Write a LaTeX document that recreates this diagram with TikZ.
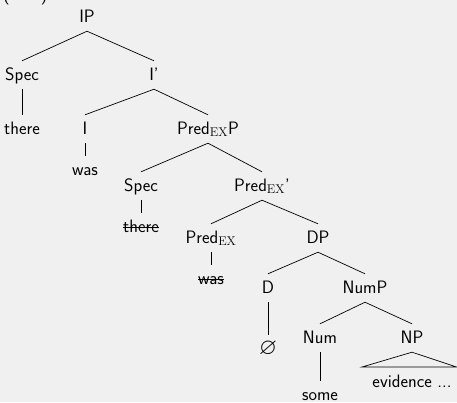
\documentclass[tikz,border=0pt]{standalone}
\usepackage{amssymb}
\usepackage{fontspec}
\definecolor{bgc}{RGB}{240,240,240}
\newcommand\mystrike[1]{\setbox0\hbox{#1}\rlap{\rule[0.22em]{\wd0}{0.7pt}}\box0}
\begin{document}
\begin{tikzpicture}[x=1pt,y=-1pt,
  font=\sffamily\fontsize{18}{21}\selectfont,
  lab/.style={anchor=base, inner xsep=1pt, inner ysep=7pt, text height=12pt, text depth=2pt},
  branch/.style={line width=0.7pt}]
\fill[bgc] (0,0) rectangle (457,402);
\useasboundingbox (0,0) rectangle (457,402);
\node[anchor=base west, inner sep=0pt] (ex) at (3,0.5) {(\hspace{31pt})};
\node[lab] (IP) at (87,22) {IP};
\node[lab] (spec1) at (22,80) {Spec};
\node[lab] (Ibar) at (154,80) {I'};
\node[lab] (there1) at (22,134) {there};
\node[lab] (I) at (85,134) {I};
\node[lab] (PredP) at (208,134) {Pred$_{\mathrm{EX}}$P};
\node[lab] (was1) at (85,175) {was};
\node[lab] (spec2) at (141,191) {Spec};
\node[lab] (Predbar) at (262,191) {Pred$_{\mathrm{EX}}$'};
\node[lab] (there2) at (141,232) {\mystrike{there}};
\node[lab] (Pred) at (211,243) {Pred$_{\mathrm{EX}}$};
\node[lab] (DP) at (318,243) {DP};
\node[lab] (was2) at (211,284) {\mystrike{was}};
\node[lab] (D) at (268,293) {D};
\node[lab] (NumP) at (365,293) {NumP};
\node[lab] (null) at (268,354.5) {\fontsize{23}{26}\selectfont$\varnothing$};
\node[lab] (Num) at (320,343) {Num};
\node[lab] (NP) at (412,343) {NP};
\node[lab] (ev) at (412,387) {evidence ...};
\node[lab] (some) at (320,400) {some};
\coordinate (tl) at (362,367);
\coordinate (tr) at (456.5,367);
\draw[branch] (IP.south) -- (spec1.north);
\draw[branch] (IP.south) -- (Ibar.north);
\draw[branch] (spec1.south) -- (there1.north);
\draw[branch] (Ibar.south) -- (I.north);
\draw[branch] (Ibar.south) -- (PredP.north);
\draw[branch] (I.south) -- (was1.north);
\draw[branch] (PredP.south) -- (spec2.north);
\draw[branch] (PredP.south) -- (Predbar.north);
\draw[branch] (spec2.south) -- (there2.north);
\draw[branch] (Predbar.south) -- (Pred.north);
\draw[branch] (Predbar.south) -- (DP.north);
\draw[branch] (Pred.south) -- (was2.north);
\draw[branch] (DP.south) -- (D.north);
\draw[branch] (DP.south) -- (NumP.north);
\draw[branch] (D.south) -- (null.north);
\draw[branch] (NumP.south) -- (Num.north);
\draw[branch] (NumP.south) -- (NP.north);
\draw[branch] (Num.south) -- (some.north);
\draw[branch] (NP.south) -- (tl) -- (tr) -- cycle;
\end{tikzpicture}
\end{document}
